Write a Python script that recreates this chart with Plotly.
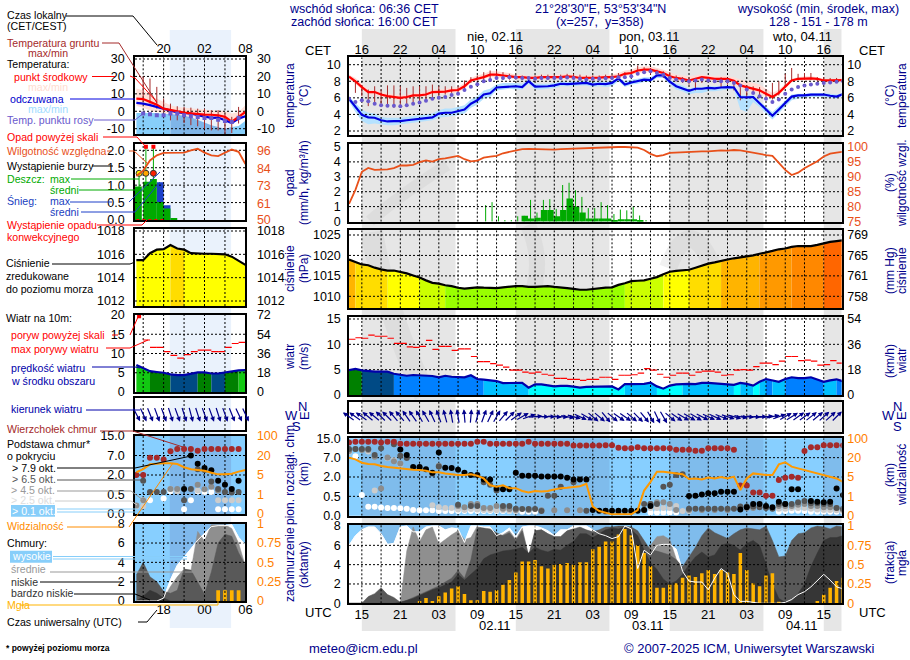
#! python
# -*- coding: utf-8 -*-

"""Meteogram ICM: temperatura, opad, ciśnienie, wiatr, chmury (1 godz.)."""

import numpy as np
import plotly.graph_objects as go

W, H = 910, 660
FONT = "Liberation Sans"
NAVY = "#00008b"
ORANGE = "#ff7f00"

# ---- glowny meteogram, godziny od 00 UTC 01.11 ----
hours = list(range(13, 91))
grid_hours = [15, 18, 21, 24, 27, 30, 33, 36, 39, 42, 45, 48, 51, 54, 57, 60, 63, 66, 69, 72, 75, 78, 81, 84, 87]
time_ticks = [15, 21, 27, 33, 39, 45, 51, 57, 63, 69, 75, 81, 87]
cet_labels = ["16", "22", "04", "10", "16", "22", "04", "10", "16", "22", "04", "10", "16"]
utc_labels = ["15", "21", "03", "09", "15", "21", "03", "09", "15", "21", "03", "09", "15"]
night_start = [15, 39, 63, 87]
night_end = [29.6, 53.6, 77.6, 89.8]

temp_mean = [8.55, 8.0, 7.3, 6.7, 6.7, 6.4, 6.2, 6.1, 6.0, 6.1,
             6.3, 6.3, 6.4, 6.7, 6.7, 6.75, 6.9, 6.95, 7.4, 8.1,
             8.3, 8.5, 8.8, 8.8, 8.7, 8.6, 8.5, 8.5, 8.4, 8.4,
             8.5, 8.5, 8.5, 8.5, 8.6, 8.55, 8.4, 8.4, 8.45, 8.45,
             8.5, 8.5, 8.6, 8.9, 9.0, 9.3, 9.4, 9.4, 9.2, 9.0,
             8.6, 8.4, 8.3, 8.1, 8.3, 8.5, 8.4, 8.3, 8.3, 8.3,
             8.05, 7.5, 7.3, 7.1, 6.9, 6.5, 6.1, 6.6, 7.4, 8.1,
             8.3, 8.35, 8.35, 8.3, 8.1, 8.1, 8.1, 8.15]
temp_max = [8.8, 8.4, 7.7, 7.0, 6.9, 6.7, 6.5, 6.4, 6.3, 6.4,
            6.6, 6.6, 6.7, 7.0, 7.0, 7.1, 7.2, 7.3, 7.8, 8.4,
            8.7, 8.9, 9.2, 9.2, 9.1, 9.0, 8.8, 8.8, 8.6, 8.7,
            8.8, 8.8, 8.8, 8.8, 8.9, 8.8, 8.7, 8.7, 8.7, 8.7,
            8.8, 8.8, 9.0, 9.3, 9.4, 9.7, 9.8, 9.8, 9.6, 9.4,
            9.1, 8.8, 8.7, 8.6, 8.7, 8.8, 8.7, 8.6, 8.6, 8.6,
            8.5, 8.2, 8.0, 7.8, 7.6, 7.1, 6.6, 7.0, 7.7, 8.3,
            8.5, 8.6, 8.6, 8.5, 8.3, 8.3, 8.3, 8.4]
temp_min = [8.3, 7.7, 7.0, 6.4, 6.4, 6.1, 5.9, 5.8, 5.7, 5.8,
            6.0, 6.1, 6.2, 6.5, 6.5, 6.5, 6.6, 6.7, 7.1, 7.8,
            8.1, 8.3, 8.5, 8.5, 8.4, 8.3, 8.3, 8.3, 8.2, 8.2,
            8.3, 8.3, 8.3, 8.3, 8.3, 8.3, 8.2, 8.2, 8.2, 8.2,
            8.3, 8.3, 8.4, 8.6, 8.8, 9.0, 9.1, 9.1, 8.9, 8.7,
            8.3, 8.1, 8.0, 7.8, 8.0, 8.2, 8.2, 8.1, 8.1, 8.1,
            7.8, 7.2, 7.0, 6.8, 6.6, 6.2, 5.9, 6.3, 7.1, 7.9,
            8.1, 8.1, 8.1, 8.1, 7.9, 7.9, 7.9, 7.9]
feel_mean = [5.9, 4.9, 3.95, 3.65, 3.6, 3.3, 3.15, 3.2, 3.2, 3.3,
             3.4, 3.5, 3.6, 3.65, 4.1, 4.2, 4.2, 4.4, 4.6, 5.3,
             5.7, 6.4, 6.55, 7.25, 7.3, 7.4, 7.4, 7.3, 8.0, 7.35,
             7.35, 7.4, 7.5, 7.7, 7.65, 7.7, 7.75, 7.8, 7.6, 7.7,
             7.65, 7.8, 8.35, 7.6, 7.85, 8.0, 8.2, 8.15, 8.7, 8.7,
             7.95, 7.4, 7.15, 6.85, 7.1, 7.1, 7.2, 7.15, 7.25, 7.3,
             7.25, 6.1, 6.05, 6.1, 5.35, 4.55, 3.85, 4.6, 5.4, 6.15,
             6.3, 6.3, 6.4, 6.4, 6.4, 6.25, 6.15, 6.45]
feel_max = [6.2, 5.4, 4.6, 4.2, 4.1, 3.7, 3.6, 3.6, 3.6, 3.7,
            3.8, 3.9, 4.0, 4.1, 4.5, 4.7, 4.7, 4.9, 5.1, 5.8,
            6.2, 6.9, 7.1, 7.6, 7.8, 7.8, 7.8, 7.7, 8.2, 7.7,
            7.7, 7.7, 7.8, 8.0, 7.9, 8.0, 8.0, 8.1, 7.9, 8.0,
            7.9, 8.1, 8.5, 8.0, 8.2, 8.3, 8.5, 8.5, 8.9, 8.9,
            8.2, 7.7, 7.5, 7.1, 7.3, 7.3, 7.4, 7.4, 7.4, 7.5,
            7.4, 6.3, 6.3, 6.3, 5.6, 4.9, 4.3, 5.0, 5.7, 6.4,
            6.5, 6.5, 6.6, 6.6, 6.6, 6.5, 6.4, 6.6]
feel_min = [5.6, 4.3, 3.2, 2.8, 2.9, 2.8, 2.7, 2.7, 2.8, 2.9,
            3.0, 3.1, 3.2, 3.3, 3.6, 3.7, 3.8, 3.9, 4.1, 4.8,
            5.2, 5.9, 6.1, 6.9, 7.0, 7.1, 7.0, 7.0, 7.7, 7.0,
            7.0, 7.1, 7.2, 7.4, 7.4, 7.4, 7.5, 7.5, 7.3, 7.4,
            7.3, 7.4, 8.0, 7.3, 7.6, 7.7, 7.9, 7.9, 8.4, 8.4,
            7.6, 7.0, 6.8, 6.4, 6.6, 6.6, 6.8, 6.8, 6.9, 7.0,
            7.0, 4.6, 4.3, 5.5, 4.9, 4.1, 3.4, 4.1, 4.9, 5.7,
            5.9, 6.0, 6.1, 6.1, 6.1, 6.0, 5.9, 6.2]
dew_point = [5.9, 5.5, 5.7, 5.6, 5.3, 5.1, 5.05, 5.05, 5.0, 5.1,
             5.3, 5.45, 5.65, 5.9, 6.0, 6.1, 6.35, 6.5, 6.95, 7.35,
             7.65, 8.0, 8.15, 8.4, 8.4, 8.5, 8.45, 8.4, 8.4, 8.3,
             8.4, 8.4, 8.4, 8.4, 8.45, 8.4, 8.3, 8.2, 8.3, 8.3,
             8.35, 8.4, 8.5, 8.5, 8.6, 8.9, 9.1, 9.2, 9.0, 8.8,
             8.4, 8.2, 8.1, 8.0, 8.1, 8.2, 8.1, 8.0, 8.0, 8.0,
             7.8, 7.5, 7.0, 6.6, 6.2, 5.9, 5.5, 5.8, 6.5, 7.0,
             7.3, 7.5, 7.6, 7.7, 7.8, 7.85, 7.95, 8.0]
ground_hours = list(range(14, 91))
ground_max = [8.1, 7.5, 7.0, 7.4, 7.0, 7.5, 7.5, 7.4, 7.2,
              7.4, 7.4, 7.4, 7.6, 7.4, 7.4, 7.4, 7.4, 8.1, 8.5,
              8.7, 9.1, 9.3, 9.3, 9.1, 8.9, 8.8, 8.7, 8.6, 8.7,
              8.8, 8.8, 8.8, 8.8, 8.9, 8.9, 8.8, 8.7, 8.7, 8.7,
              8.8, 8.8, 9.0, 9.1, 9.3, 9.9, 9.7, 9.6, 9.4, 9.2,
              9.1, 8.7, 8.5, 8.4, 8.4, 8.5, 8.4, 8.4, 8.5, 8.4,
              8.0, 7.3, 7.5, 7.4, 7.3, 7.0, 7.8, 8.0, 8.9, 9.6,
              8.9, 9.0, 9.0, 8.5, 8.5, 8.4, 8.4, 8.4]
ground_min = [6.6, 6.2, 5.0, 5.5, 5.1, 4.9, 4.8, 4.8, 5.1,
              5.3, 5.4, 5.6, 5.8, 6.0, 6.4, 6.6, 6.7, 6.9, 7.8,
              8.1, 8.0, 8.2, 8.2, 8.2, 8.2, 8.2, 8.2, 8.2, 8.1,
              8.2, 8.2, 8.2, 8.2, 8.3, 8.2, 8.1, 8.1, 8.1, 8.1,
              8.2, 8.2, 8.2, 8.4, 8.4, 8.8, 9.0, 8.8, 8.6, 8.4,
              8.2, 8.0, 7.8, 7.6, 6.9, 7.8, 7.9, 7.9, 7.3, 7.6,
              6.9, 5.7, 5.9, 6.5, 6.2, 6.0, 5.8, 6.3, 7.4, 8.0,
              8.2, 8.2, 8.2, 8.0, 8.0, 8.0, 8.0, 8.0]

rain_hours = list(range(34, 60))
rain_mean = [0, 0, 0, 0, 0, 0, 0.38, 0.2, 0.25, 0.78, 0.78, 0.35, 0.78, 1.55, 1.0, 0.6,
             0.2, 0.2, 0.2, 0.2, 0.05, 0.15, 0.15, 0.15, 0.05, 0]
rain_max = [1.1, 1.3, 0.35, 0.1, 0.1, 0.35, 0.38, 1.45, 0.6, 1.45, 1.5, 0.85, 2.45, 2.6, 2.1, 1.65,
            0.9, 0.9, 1.3, 1.1, 0.5, 0.8, 0.75, 1.0, 0.4, 0.1]
humidity = [80.9, 85.6, 91.7, 93, 92.3, 92.3, 92.5, 92.9, 93.8, 93.8,
            94, 94.9, 95.5, 95.1, 95.9, 96.2, 96.5, 97, 95.9, 95.2,
            95.4, 96.4, 96.8, 97, 97.9, 98.4, 99, 99.3, 99.4, 99.3,
            99.2, 99.2, 99.1, 99.3, 99.4, 99.4, 99.4, 99.5, 99.6, 99.8,
            99.9, 100, 100, 100, 100, 99.8, 99, 97.7, 96.9, 97.3,
            98, 98.1, 98.2, 98.5, 98.5, 98.5, 98.5, 98.8, 98.9, 98.8,
            99, 98.9, 98.5, 97.9, 97.7, 97.3, 97, 94.5, 92.3, 90.6,
            91.4, 92.9, 94, 95.2, 96.8, 97.8, 98.1, 98.4]
pressure = [1019, 1018.3, 1017.8, 1017.6, 1017, 1016.6, 1016.3, 1016.3, 1016, 1015.6,
            1015.1, 1014.6, 1013.9, 1013.3, 1013.1, 1012.7, 1012.5, 1012.1, 1011.9, 1012.1,
            1012.2, 1012.1, 1012, 1012, 1012.2, 1012.4, 1012.5, 1012.5, 1012.3, 1012.3,
            1012.4, 1012.5, 1012.3, 1012.2, 1012, 1011.8, 1011.6, 1011.6, 1011.8, 1012,
            1012.1, 1012.2, 1012.8, 1013.2, 1013.7, 1013.8, 1013.9, 1014.3, 1014.7, 1015.4,
            1016, 1016.2, 1016.4, 1016.5, 1017, 1017.5, 1018, 1018.3, 1018.7, 1019,
            1019.3, 1019.5, 1019.8, 1020, 1020.4, 1020.7, 1021.1, 1021.5, 1021.7, 1022.1,
            1022.3, 1022.3, 1022.3, 1022.6, 1023, 1023.3, 1023.5, 1023.7]
wind = [4.9, 5.15, 4.85, 4.7, 4.6, 4.6, 4.6, 4.2, 3.95, 3.8,
        3.95, 3.9, 3.75, 3.75, 3.5, 3.8, 3.6, 3.55, 3.5, 3.9,
        3.15, 3.05, 2.95, 2.75, 2.35, 2.35, 2.35, 2.4, 1.45, 2.1,
        2.1, 1.9, 1.7, 1.8, 1.8, 1.65, 1.45, 1.6, 1.6, 1.6,
        1.7, 1.7, 1.1, 2.15, 2.15, 2.15, 2.2, 2.45, 1.7, 1.25,
        1.85, 2.1, 2.2, 2.2, 2.15, 2.4, 2.4, 2.3, 2.25, 2.2,
        2, 2.4, 2.2, 1.85, 2.6, 3.15, 2.8, 2.6, 3.15, 3.5,
        3.35, 3.35, 3.5, 3.1, 2.6, 2.9, 3.1, 2.7]
gust = [11, 11.3, 11.2, 11.8, 11.6, 11.6, 11.2, 10.2, 10.2, 9.5,
        9.4, 9.6, 10.8, 9.0, 9.6, 9.6, 8.8, 9.1, 9.1, 7.6,
        6.6, 6.6, 6.2, 5.9, 5.5, 4.9, 4.9, 4.5, 4.3, 4.5,
        4.1, 3.9, 3.3, 3.3, 3.1, 3.1, 2.9, 3.1, 3.1, 3.5,
        3.5, 3.1, 3.9, 3.9, 4, 4.3, 5.2, 4.9, 4.1, 3.5,
        3.9, 4.3, 4.3, 3.9, 4.5, 4.7, 4.7, 4.5, 3.9, 4,
        4.9, 5, 4.9, 5.6, 6.3, 6.3, 6, 6.7, 7.6, 7.6,
        6.8, 6.9, 6.7, 5.9, 6, 6.8, 6.3]
wind_bearing = [305, 305, 305, 310, 310, 315, 315, 320, 320, 325,
                325, 330, 330, 335, 340, 345, 350, 350, 355, 5,
                15, 20, 25, 30, 40, 45, 55, 60, 70, 85,
                90, 90, 95, 95, 100, 105, 115, 120, 130, 130,
                140, 130, 125, 125, 130, 135, 140, 150, 155, 150,
                130, 125, 120, 120, 120, 118, 115, 115, 112, 108,
                105, 100, 95, 95, 90, 85, 78, 70, 60, 58,
                55, 55, 52, 50, 48, 48, 45]

# podstawa chmur [km] wg pokrycia, wierzcholek, widzialnosc
cloud_top = [13.3, 13.6, 13.6, 13.6, 13.6, 13.3, 13.6, 13.6, 12.7, 12.7,
             12.7, 12.7, 12.7, 12.7, 12.7, 12.7, 12.7, 12.7, 12.7, 12.7,
             13.6, 13.6, 12.7, 12.7, 12.7, 12.7, 12.7, 12.7, 13.6, 12.7,
             12.7, 12.7, 12.7, 12.7, 12.7, 12, 12, 12, 12, 12,
             12.1, 12.1, 11.1, 10.9, 10.9, 11.3, 10.9, 10.9, 10.9, 10.9,
             10.9, 10.3, 10.3, 10.3, 9.9, 9.9, 10.9, 10.9, 10.9, 10.9,
             10.3, 1.35, 1.35, 0.8, 0.8, 0.55, 0.55, 1.77, 1.95, 2.05,
             1.95, 9.75, 11.3, 11.3, 12.1, 12.1, 12.1, 12.1]
base79_hours = [21, 22, 23, 24, 25, 26, 27, 28, 29, 30, 31, 32, 33, 34, 35, 36, 37, 38, 39, 40, 41, 42, 43, 44, 45,
                46, 47, 48, 49, 50, 51, 52, 53, 54, 55, 56, 57, 58, 59, 60, 66, 67, 68, 69, 70, 71, 72, 73, 74, 75,
                76, 77, 78, 79, 80, 81, 82, 83, 85, 86, 87, 88, 89, 90]
base79_km = [10.4, 8.1, 4.6, 4.6, 4.0, 3.1, 9.1, 4.4, 4.3, 3.9, 3.1, 2.5, 2.5, 1.8, 1.8, 1.1, 1.05, 1.05, 3.1, 2.3,
             2.3, 2.3, 2.1, 2.1, 2.1, 2.1, 1.95, 1.8, 1.8, 1.8, 0.15, 0.13, 0.13, 0.13, 0.13, 0.13, 0.13, 0.13, 0.15,
             0.25, 0.53, 0.55, 0.65, 0.75, 0.75, 0.85, 0.85, 0.85, 0.16, 0.22, 0.3, 0.3, 0.25, 0.22, 0.36, 0.3, 1.05,
             1.05, 0.38, 0.36, 0.35, 0.36, 1.1, 0.6]
base65_hours = [13, 14, 15, 16, 17, 18, 20, 21, 22, 24, 26, 27, 30, 32, 33, 34, 35, 36, 37, 38, 39, 40, 41, 42, 43,
                44, 45, 46, 48, 50, 53, 59, 60, 61, 62, 63, 64, 65, 66, 67, 68, 69, 70, 71, 72, 73, 74, 75, 76, 77,
                78, 79, 80, 81, 82, 83, 84, 85, 86, 87, 88, 89, 90]
base65_km = [10.6, 10.6, 10.6, 10.6, 8.1, 10.9, 12.5, 7.8, 6.9, 4.4, 2.9, 4.7, 0.28, 0.25, 0.25, 1.6, 1.4, 0.95,
             0.25, 0.25, 0.18, 0.17, 0.17, 0.17, 0.12, 0.55, 0.55, 1.25, 1.6, 0.13, 0.12, 0.3, 0.3, 0.3, 1.25, 1.4,
             2.5, 2.7, 0.18, 0.18, 0.18, 0.18, 0.18, 0.18, 0.18, 0.18, 0.24, 0.24, 0.24, 0.22, 0.2, 0.18, 0.3, 0.3,
             0.3, 0.35, 0.38, 0.32, 0.32, 0.3, 0.3, 0.2, 0.18]
base45_hours = [13, 14, 15, 16, 17, 18, 19, 20, 21, 27, 30, 31, 32, 33, 34, 35, 36, 37, 38, 39, 41, 43, 45, 47, 49,
                53, 55, 57, 59, 60, 61, 62, 63, 64, 66, 68, 70, 72, 74, 75, 76, 80, 81, 82, 83, 84, 85, 86, 87, 88,
                89, 90]
base45_km = [9.8, 10.6, 10.2, 10.2, 7.4, 1.1, 7.1, 6.1, 5.5, 4.9, 0.25, 0.22, 0.3, 0.3, 0.2, 0.2, 0.25, 0.18, 0.17,
             0.15, 0.15, 0.14, 0.14, 0.14, 0.14, 0.1, 0.1, 0.1, 0.15, 0.3, 0.35, 0.35, 0.3, 0.15, 0.15, 0.15, 0.15,
             0.15, 0.2, 0.2, 0.2, 0.25, 0.25, 0.25, 0.28, 0.3, 0.25, 0.25, 0.22, 0.22, 0.2, 0.15]
base25_hours = [13, 16, 17, 19, 20, 21, 26, 27, 28, 29, 30, 31, 32, 33, 34, 35, 36, 37, 38, 39, 60, 61, 62, 63, 64,
                65, 66, 80, 81, 82, 83, 84, 85, 86, 87, 88, 89, 90]
base25_km = [9.3, 9.5, 0.95, 6.9, 6.3, 5.3, 0.27, 0.22, 0.2, 0.2, 0.16, 0.15, 0.17, 0.16, 0.15, 0.15, 0.14, 0.14,
             0.13, 0.12, 0.2, 0.2, 0.2, 0.2, 0.25, 0.12, 0.12, 0.18, 0.18, 0.2, 0.2, 0.2, 0.18, 0.16, 0.15, 0.15,
             0.14, 0.12]
base01_hours = [14, 15, 16, 17, 18, 19, 20, 21, 22, 23, 24, 25, 26, 27, 28, 29, 30, 31, 32, 33, 34, 35, 36, 37, 38,
                39, 40, 41, 42, 60, 61, 62, 63, 64, 80, 81, 82, 83, 84, 85, 86, 87, 88, 89, 90]
base01_km = [7.6, 0.6, 0.23, 0.23, 0.21, 0.2, 0.2, 0.19, 0.18, 0.15, 0.14, 0.14, 0.14, 0.12, 0.12, 0.12, 0.12, 0.12,
             0.12, 0.12, 0.12, 0.12, 0.12, 0.12, 0.12, 0.12, 0.1, 0.1, 0.1, 0.08, 0.08, 0.08, 0.08, 0.08, 0.1, 0.12,
             0.13, 0.13, 0.12, 0.1, 0.1, 0.1, 0.1, 0.1, 0.1]
visibility = [20, 18.7, 16.1, 15.1, 14.8, 13.5, 12.8, 12.2, 11.7, 11.2,
              10.7, 10.4, 9.9, 8.6, 8.6, 7.8, 7.1, 6.6, 6.6, 7.1,
              6, 4.7, 3.3, 3, 3.3, 2.7, 2.7, 2.1, 1.8, 2.1,
              2, 2.1, 2.4, 2.7, 2.8, 2.9, 3.1, 3.6, 0.47, 0.24,
              0.14, 0.07, 0.07, 0.07, 0.07, 0.29, 2.2, 4, 9.1, 9.1,
              8.4, 7.8, 7.1, 4.6, 4.7, 4.5, 4.9, 4.7, 5, 4.7,
              5.3, 2.3, 4.7, 7.8, 7.1, 6.6, 6.6, 14.8, 16.4, 13,
              11.7, 10.4, 8.6, 7.6, 6.6, 5.3, 4.7, 4]

# zachmurzenie [oktanty] i mgla [frakcja]
cloud_high = [6.0, 7.0, 7.6, 7.9, 7.9, 7.2, 6.1, 6.2, 7.9, 8,
              7.4, 7.4, 7.9, 8, 8, 7.6, 7.8, 7.7, 6.3, 8,
              8, 7.9, 7.9, 7.0, 7.3, 7.8, 6.9, 7.9, 8, 8,
              7.8, 7.5, 7, 7.6, 7.6, 8, 8, 8, 7.6, 7.2,
              7.0, 6.7, 6.9, 8, 7.7, 3.6, 5.5, 5, 6, 6.1,
              6.1, 5.6, 3.3, 2.3, 2.2, 2.2, 1.4, 2.6, 3.6, 3.1,
              0.9, 0.2, 0.2, 0.1, 0, 0, 0, 0, 0.1, 0.4,
              0.9, 1.2, 1.7, 2.3, 3, 2.4, 1.7, 1.5]
cloud_mid = [0, 0, 0, 0, 0, 0, 0, 0, 0, 5.4,
             7.9, 6.4, 7.6, 7.9, 6.1, 6.6, 7.1, 7.5, 6.6, 6.8,
             8, 7.8, 7.3, 6.6, 7.1, 7.5, 6.6, 7.8, 4.9, 7.5,
             7.6, 7.2, 6.9, 6.9, 7.5, 7.7, 7.2, 6.8, 6.5, 6.7,
             6.9, 7.5, 7.6, 7.6, 7.5, 6.5, 5.5, 6, 6.9, 7,
             6.6, 4.6, 3.3, 2, 1, 0.5, 0, 0, 0, 0,
             0, 0, 0, 0, 0, 0, 0, 0, 0, 0,
             0, 0, 0, 0, 0, 0, 0, 0]
cloud_low = [0, 0, 0, 0.7, 1, 1.6, 0.9, 0.6, 0.1, 0.3,
             0.6, 0.9, 1.2, 1.5, 1.8, 2.2, 2.6, 3.4, 2.6, 4.5,
             7.8, 7.8, 7.7, 7.3, 7, 7.3, 6.5, 7.5, 4.9, 7.5,
             7.6, 7.2, 6.9, 6.9, 7.5, 7.7, 7.9, 7.6, 7.4, 7.6,
             7.9, 7.9, 8, 8, 7.9, 7.5, 6.5, 5.5, 5.4, 5.2,
             5, 4.5, 3.8, 4.8, 5.8, 7, 7.8, 7.3, 7, 6.7,
             7.2, 7.6, 7.8, 7.7, 7.6, 8, 6.5, 4.8, 4.9, 6.5,
             7.2, 7.3, 7.8, 8, 7.9, 7.7, 8, 7.9]
cloud_vlow = [0, 0, 0, 0, 0, 0, 0, 0, 0.1, 0.3,
              0.5, 0.8, 1.1, 1.4, 1.6, 1.9, 2.2, 3, 2.4, 3,
              3.6, 4.6, 5, 5.2, 5.4, 5.5, 5.6, 5.8, 5.2, 5.8,
              5.5, 5.3, 5.6, 5.5, 6, 6.4, 7.2, 7.2, 6.8, 7.2,
              7.6, 7.8, 7.7, 7.9, 7.6, 7, 5.5, 4.2, 3.5, 2.5,
              2, 2.3, 3, 4, 4.8, 5.3, 4.8, 5, 6, 6.2,
              6, 5.5, 6.2, 6.5, 6, 4, 2, 0.5, 0.1, 0.2,
              1, 2, 3.8, 5.2, 6.5, 6.8, 6.8, 7]
fog_hours = list(range(24, 91))
fog = [0.03, 0.07, 0.03, 0.09, 0.14, 0.19, 0.22, 0.12, 0.04, 0.04,
       0.16, 0.15, 0.17, 0.24, 0.3, 0.4, 0.54, 0.54, 0.56, 0.48,
       0.45, 0.5, 0.51, 0.52, 0.5, 0.53, 0.53, 0.7, 0.73, 0.8,
       0.8, 0.89, 0.96, 0.88, 0.75, 0.65, 0.48, 0.2, 0.2, 0.24,
       0.26, 0.33, 0.36, 0.34, 0.39, 0.43, 0.38, 0.43, 0.4, 0.38,
       0.65, 0.43, 0.26, 0.22, 0.36, 0.39, 0.02, 0, 0, 0,
       0, 0, 0.03, 0.11, 0.2, 0.29, 0.33]

# ---- maly meteogram po lewej (legenda) ----
mini_hours = list(range(14, 31))
mini_grid = [15, 18, 21, 24, 27]
mini_ticks = [18, 24, 30]
mini_temp = [7.3, 7, 5.4, 3.8, 1.5, 0.6, -0.2, -0.8, -1.2, -1.7, -1.9, -2, -2.3, -3.2, -6, -3.2, -0.4]
mini_temp_max = [13, 12, 9.2, 7.3, 5.4, 3.5, 2.5, 2.1, 1.5, 1.5, 1, 0.6, 0.6, 0.2, -1.3, -0.4, 3.5]
mini_temp_min = [3, 2, 0.5, -0.5, -1, -1.5, -2, -2.5, -3, -3.5, -4, -4, -4.5, -5, -7, -5, -3]
mini_feel = [4.8, 4.4, 3.5, 2.5, 1.3, 0.2, -0.6, -1, -1.3, -2.3, -3.2, -3.8, -3.6, -5.2, -6.7, -4.2, -2.9]
mini_feel_max = [-1, -1, -1, -1, -1.5, -1.5, -2, -2.5, -3.5, -5, -6.5, -8, -9, -10, -9, -8.5, -5.5]
mini_dew_hours = list(range(15, 30))
mini_dew = [-1.3, -1.7, -2.3, -2.3, -1.3, -1.3, -2.3, -2.9, -3.3, -3.8, -3.8, -4.8, -5.6, -6.2, -3.7]
mini_ground_max = [20, 18.8, 14, 7.3, 4.4, 2.9, 2.5, 2.1, 1.5, 1.5, 0.6, 0.6, -1.3, -3.2, 2.5]
mini_ground_min = [5.4, 4.4, 1.5, -0.4, -5.2, -5.2, -6.7, -8, -8.6, -10, -11, -11, -12.9, -12.5, -7]
mini_rain_hours = [13.8, 15, 16, 17, 18, 19]
mini_rain = [0.96, 1.1, 1.18, 0.52, 0.33, 0.05]
mini_snow_hours = [17, 18]
mini_snow = [1.08, 0.42]
mini_storm_hours = [14.4, 15.4, 16.5]
mini_storm = [1.34, 1.34, 1.34]
mini_rain_tip = [1.42, 2.1, 2.1]
mini_over_hours = [15.4, 16.5]
mini_over = [2.1, 2.1]
mini_conv_hours = [14, 18]
mini_conv = [0, 0]
mini_humidity = [79, 82.6, 89.3, 92.7, 94.3, 94.5, 94.5, 94.5, 96, 97, 94.5, 92.6, 92.2, 94.5, 96.5, 95, 87]
mini_pressure = [1015.5, 1015.5, 1016.1, 1016.4, 1016.45, 1016.8, 1016.5, 1016.4, 1016.1, 1016.05, 1016.05, 1016.05,
                 1016.05, 1016, 1015.8, 1015.45, 1015.1]
mini_wind = [7, 6.1, 5.4, 5.2, 5, 4.6, 4.4, 4.4, 4.7, 5.1, 5.1, 4.8, 4.8, 5.1, 5.4, 5.6, 5.7]
mini_gust_hours = [15, 16, 17, 18, 19, 20, 21, 22, 23, 24, 25, 26, 27, 28, 29]
mini_gust = [13.5, 11.6, 11.6, 10.5, 9.5, 8.8, 9.7, 10.5, 10.9, 10.9, 10.5, 10.5, 11.6, 12.6, 12.9]
mini_gust_over_hours = [14.4]
mini_gust_over = [19.7]
mini_bearing = [152, 155, 158, 160, 160, 162, 160, 162, 165, 162, 160, 160, 162, 160, 158, 155, 155]
mini_top_hours = [14, 15, 16, 17, 18, 19, 20, 21, 22, 23, 24, 25, 26, 27, 28, 29]
mini_top_km = [2, 2, 6.4, 6.4, 6, 8.7, 9.7, 9.7, 9.7, 8.9, 9.7, 9.7, 9.7, 9.7, 9.7, 9.7]
mini_b79_hours = [21, 22, 23, 24, 25, 26, 27, 28, 29]
mini_b79_km = [0.93, 7, 4.9, 3.8, 3.2, 1.55, 1.25, 0.93, 1.55]
mini_b65_hours = [15, 16, 17, 18, 21, 22, 23, 24, 25, 26, 27, 28, 29]
mini_b65_km = [1.55, 0.7, 0.7, 0.7, 0.35, 0.93, 3.5, 3.3, 1.5, 0.93, 0.7, 0.65, 0.7]
mini_b45_hours = [14, 15, 19, 20, 23, 24, 25, 26]
mini_b45_km = [0.22, 0.35, 0.93, 0.93, 1.25, 0.9, 1.1, 0.8]
mini_b25_hours = [14, 15, 19, 20, 23, 26, 27, 28, 29]
mini_b25_km = [0.2, 0.2, 0.93, 0.75, 0.8, 0.35, 0.35, 0.35, 0.35]
mini_b01_hours = [15, 16, 18, 19, 21, 22, 23, 24, 25, 26, 27, 28, 29]
mini_b01_km = [0.35, 0.35, 0.4, 0.75, 0.12, 0.35, 0.75, 0.7, 0.7, 0.12, 0.12, 0.12, 0.12]
mini_visibility = [7.1, 9.5, 13.2, 13.7, 14, 14, 13.4, 11, 9.5, 8.9, 8.2, 6.8, 5.5, 5.5, 6, 7.6, 8.9]
mini_high = [0, 0, 0, 0, 0.3, 2.2, 3.7, 4.5, 5.4, 6.3, 7, 7.7, 7.8, 7.8, 7.9, 6.6, 5.8]
mini_mid = [0, 0, 0, 0, 0.2, 1.5, 2.5, 3.3, 3.1, 7.2, 6.2, 7.9, 7.9, 7.9, 7.5, 6, 3.6]
mini_low = [2.7, 4, 2.5, 2, 1, 0.8, 1.1, 3.3, 3.2, 2, 0.7, 3, 6, 6.9, 6.7, 5, 3.7]
mini_vlow = [0, 0.5, 1.1, 0.8, 0.3, 0, 0, 0, 0, 0, 0, 0, 0, 0, 0, 0, 0]
mini_fog_hours = [26, 27, 28, 29]
mini_fog = [0.14, 0.14, 0.14, 0.14]

# skale
KM_LEVELS = [0, 0.5, 2, 7, 15]
VIS_LEVELS = [0, 1, 5, 20, 100]
PRESSURE_EDGES = [1013, 1015, 1016.5, 1018.7, 1020.4, 1022.1, 1022.9]
PRESSURE_COLORS = ["#99ff00", "#ccff00", "#ffff00", "#ffdd00", "#ffb400", "#ff9900", "#ff8800", "#ff6600"]
WIND_EDGES = [2.12, 3.1, 4.3, 4.9, 5.5]
WIND_COLORS = ["#00ffff", "#00c0ff", "#0080ff", "#004a85", "#008000", "#12c812"]

fig = go.Figure()
layout_axes = {}
shapes = []
annotations = []
MAIN_X = [349, 841.7]
MINI_X = [135, 245.4]
MAIN_RANGE = [13, 89.8]
MINI_RANGE = [13.8, 30]


def fx(px):
    return px / W


def fy(py):
    return 1 - py / H


def y_range(v0, p0, v1, p1, top, bottom):
    # zakres osi z dwoch punktow odczytanych w pikselach
    k = (v1 - v0) / (p1 - p0)
    return [v0 + (bottom - p0) * k, v0 + (top - p0) * k]


def set_panel(n, x_px, y_px, x_rng, y_rng, ticks=(), text=None, r_rng=None, r_ticks=None, r_text=None,
              r_color="black", stand=(4, 2), x_ticks=None, x_text=None, x_side="bottom", x_off=0):
    layout_axes[f"xaxis{n}"] = dict(
        domain=[fx(x_px[0]), fx(x_px[1])], range=x_rng, anchor=f"y{n}", side=x_side,
        showgrid=False, zeroline=False, showline=True, mirror=True, linecolor="black", linewidth=1.5,
        tickmode="array", tickvals=x_ticks or [], ticktext=x_text or [], ticks="", ticklabelstandoff=x_off,
        tickfont=dict(family=FONT, size=13, color="black"), fixedrange=True,
    )
    layout_axes[f"yaxis{n}"] = dict(
        domain=[fy(y_px[1]), fy(y_px[0])], range=y_rng, anchor=f"x{n}",
        showgrid=False, zeroline=False, showline=True, mirror=True, linecolor="black", linewidth=1.5,
        tickmode="array", tickvals=list(ticks), ticktext=text or [str(t) for t in ticks],
        ticks="outside", ticklen=stand[0], tickcolor="rgba(0,0,0,0)",
        tickfont=dict(family=FONT, size=12.5, color="black"), fixedrange=True,
    )
    layout_axes[f"yaxis{n + 20}"] = dict(
        overlaying=f"y{n}", side="right", anchor=f"x{n}", range=r_rng or y_rng,
        showgrid=False, zeroline=False, showline=False,
        tickmode="array", tickvals=list(r_ticks if r_ticks is not None else ticks),
        ticktext=r_text or [str(t) for t in (r_ticks if r_ticks is not None else ticks)],
        ticks="outside", ticklen=stand[1], tickcolor="rgba(0,0,0,0)",
        tickfont=dict(family=FONT, size=12.5, color=r_color), fixedrange=True,
    )
    first = list(r_ticks if r_ticks is not None else ticks) or [0]
    add(n, go.Scatter(x=[x_rng[0]], y=[first[0]], mode="markers", marker_opacity=0), right=True)
    add(n, go.Scatter(x=[x_rng[0]], y=[y_rng[0]], mode="markers", marker_opacity=0))


def add(n, trace, right=False):
    trace.update(xaxis=f"x{n}", yaxis=f"y{n + 20}" if right else f"y{n}", hoverinfo="skip", showlegend=False)
    fig.add_trace(trace)


def line(n, x, y, color, width=2, right=False, dash=None):
    add(n, go.Scatter(x=x, y=y, mode="lines", line=dict(color=color, width=width, dash=dash)), right)


def band(n, x, lo, hi, color):
    add(n, go.Scatter(x=list(x) + list(x)[::-1], y=list(hi) + list(lo)[::-1], mode="lines", fill="toself",
                      fillcolor=color, line=dict(width=0)))


def area(n, x, y, color, edge=None):
    add(n, go.Scatter(x=x, y=y, mode="lines", fill="tozeroy", fillcolor=color,
                      line=dict(color=edge or color, width=0.5)))


def sticks(n, x, lo, hi, color, width=1, right=False):
    xs, ys = [], []
    for h, a, b in zip(x, lo, hi):
        xs += [h, h, None]
        ys += [a, b, None]
    line(n, xs, ys, color, width, right)


def steps(n, x, y, color, width=1.2):
    xs, ys = [], []
    for h, v in zip(x, y):
        xs += [h, h + 1, None]
        ys += [v, v, None]
    line(n, xs, ys, color, width)


def grid(n, x_hours, y_ticks, x_rng, y_rng, right=False):
    xs, ys = [], []
    for h in x_hours:
        xs += [h, h, None]
        ys += [y_rng[0], y_rng[1], None]
    for v in y_ticks:
        xs += [x_rng[0], x_rng[1], None]
        ys += [v, v, None]
    line(n, xs, ys, "black", 1, right, dash="2px,2px")


def color_area(n, x, y, base, colors):
    # wypelnienie kolumnami: kolejne odcinki o tym samym kolorze jako jeden wielokat
    start = 0
    for i in range(1, len(x)):
        if i == len(x) - 1 or colors[i] != colors[start]:
            xs = x[start:i + 1]
            ys = y[start:i + 1]
            add(n, go.Scatter(x=xs + xs[::-1], y=ys + [base] * len(xs), mode="lines", fill="toself",
                              fillcolor=colors[start], line=dict(width=0)))
            start = i


def dots(n, x, km, color, size=6):
    add(n, go.Scatter(x=x, y=np.interp(km, KM_LEVELS, range(5)), mode="markers",
                      marker=dict(color=color, size=size, line=dict(width=0))))


def arrows(n, x, bearing, length):
    for h, b in zip(x, bearing):
        sin_b, cos_b = np.sin(np.radians(b)), np.cos(np.radians(b))
        annotations.append(dict(
            x=h, y=0.5, xref=f"x{n}", yref=f"y{n}", text="", showarrow=True, arrowhead=2, arrowsize=0.8,
            arrowwidth=1.2, arrowcolor=NAVY, ax=-length * sin_b, ay=length * cos_b, axref="pixel", ayref="pixel",
            xshift=length / 2 * sin_b, yshift=length / 2 * cos_b,
        ))


def label(text, x, y, color="black", anchor="left", size=12.5, angle=0):
    annotations.append(dict(
        text=text, x=fx(x), y=fy(y), xref="paper", yref="paper", xanchor=anchor, yanchor="middle",
        showarrow=False, textangle=angle, borderpad=0,
        font=dict(family=FONT, size=size, color=color),
    ))


def note(text, x, y, color="black"):
    # opisy w legendzie po lewej sa drobniejsze
    label(text, x, y, color, "left", 10.6)


def leader(points, color):
    path = "M " + " L ".join(f"{fx(a)} {fy(b)}" for a, b in points)
    shapes.append(dict(type="path", path=path, xref="paper", yref="paper", layer="above",
                       line=dict(color=color, width=1)))


def rect(x0, x1, y0, y1, color, xref="paper", layer="below"):
    shapes.append(dict(type="rect", x0=x0, x1=x1, y0=y0, y1=y1, xref=xref, yref="paper", layer=layer,
                       fillcolor=color, line=dict(width=0)))


def smear(points, width):
    # blady znak wodny ICM pod wykresami
    path = f"M {fx(points[0][0])} {fy(points[0][1])} Q " + " ".join(f"{fx(a)} {fy(b)}" for a, b in points[1:])
    shapes.append(dict(type="path", path=path, xref="paper", yref="paper", layer="below",
                       line=dict(color="rgba(190,190,190,0.22)", width=width)))


def bucket(values, edges, palette):
    return [palette[int(np.searchsorted(edges, v, side="right"))] for v in values]


# ---- tlo: noc i tlo paneli chmur ----
P_MAIN = dict(temp=[57.3, 135], rain=[144, 221.7], press=[230.3, 308.3], wind=[317.3, 395], dir=[401.7, 431.7],
              base=[438.3, 515.7], cloud=[525, 603.3])
P_MINI = dict(temp=[57.3, 134.3], rain=[144, 220], press=[229.3, 306], wind=[315, 392], dir=[398.3, 430],
              base=[436, 514], cloud=[523.7, 601])

for s, e in zip(night_start, night_end):
    rect(s, e, fy(29), fy(631), "#e6e6e6", xref="x2")
rect(18.9, 27.9, fy(30), fy(628), "#eaf2fc", xref="x9")
smear([(370, 221), (400, 195), (447, 165)], 12)
smear([(372, 232), (385, 310), (425, 395)], 22)
smear([(528, 225), (545, 262), (530, 300)], 16)
smear([(668, 268), (690, 210), (713, 268)], 18)
for key in ("base", "cloud"):
    rect(fx(MAIN_X[0]), fx(MAIN_X[1]), fy(P_MAIN[key][0]), fy(P_MAIN[key][1]), "#87cfff")
    rect(fx(MINI_X[0]), fx(MINI_X[1]), fy(P_MINI[key][0]), fy(P_MINI[key][1]), "#87cfff")
    for s, e in zip(night_start, night_end):
        rect(s, e, fy(P_MAIN[key][0]), fy(P_MAIN[key][1]), "#7fbcec", xref="x2")
    rect(18.9, 27.9, fy(P_MINI[key][0]), fy(P_MINI[key][1]), "#7fb8ec", xref="x9")

# ---- glowne panele ----
rng = y_range(2, 131, 10, 64.7, *P_MAIN["temp"])
set_panel(2, MAIN_X, P_MAIN["temp"], MAIN_RANGE, rng, [2, 4, 6, 8, 10],
          x_ticks=time_ticks, x_text=cet_labels, x_side="top", x_off=-4)
band(2, hours, temp_min, temp_max, "#ffdcd6")
band(2, hours, feel_min, feel_max, "#b5e2ff")
grid(2, grid_hours, [2, 4, 6, 8, 10], MAIN_RANGE, rng)
sticks(2, ground_hours, ground_min, ground_max, "#a52a2a")
line(2, hours, feel_mean, "#0000e0", 2.2)
line(2, hours, temp_mean, "#ff0000", 2.2)
add(2, go.Scatter(x=hours, y=dew_point, mode="markers", marker=dict(color="#6a5acd", size=4)))

rng = y_range(0, 221.5, 5, 147, *P_MAIN["rain"])
rh = y_range(75, 221.5, 100, 147, *P_MAIN["rain"])
set_panel(3, MAIN_X, P_MAIN["rain"], MAIN_RANGE, rng, [0, 1, 2, 3, 4, 5], r_rng=rh,
          r_ticks=[75, 80, 85, 90, 95, 100], r_color="#e8501a")
add(3, go.Bar(x=rain_hours, y=rain_mean, width=1, offset=-0.1, marker=dict(color="#00aa00", line_width=0)))
sticks(3, [h + 0.3 for h in rain_hours], [0] * len(rain_max), rain_max, "#00aa00")
grid(3, grid_hours, [1, 2, 3, 4], MAIN_RANGE, rng)
line(3, hours, humidity, "#e8501a", 1.8, right=True)

rng = y_range(1010, 296.3, 1025, 235, *P_MAIN["press"])
set_panel(4, MAIN_X, P_MAIN["press"], MAIN_RANGE, rng, [1010, 1015, 1020, 1025],
          r_text=["758", "761", "765", "769"])
color_area(4, hours, pressure, rng[0], bucket(pressure, PRESSURE_EDGES, PRESSURE_COLORS))
grid(4, grid_hours, [1010, 1015, 1020, 1025], MAIN_RANGE, rng)
line(4, hours, pressure, "black", 2.2)

rng = y_range(0, 395, 15, 319, *P_MAIN["wind"])
set_panel(5, MAIN_X, P_MAIN["wind"], MAIN_RANGE, rng, [0, 5, 10, 15], r_text=["0", "18", "36", "54"])
color_area(5, hours, wind, 0, bucket(wind, WIND_EDGES, WIND_COLORS))
grid(5, grid_hours, [5, 10, 15], MAIN_RANGE, rng)
steps(5, hours[:-1], gust, "#ff0000")
line(5, hours, wind, "#0000aa", 2.2)

set_panel(6, MAIN_X, P_MAIN["dir"], MAIN_RANGE, [0, 1])
grid(6, grid_hours, [], MAIN_RANGE, [0, 1])
arrows(6, hours[:-1], wind_bearing, 15)

set_panel(7, MAIN_X, P_MAIN["base"], MAIN_RANGE, [0, 4], [0, 1, 2, 3, 4],
          text=["0.0", "0.5", "2.0", "7.0", "15.0"], r_text=["0", "1", "5", "20", "100"], r_color=ORANGE)
grid(7, grid_hours, [1, 2, 3], MAIN_RANGE, [0, 4])
dots(7, base01_hours, base01_km, "white")
dots(7, base25_hours, base25_km, "#cccccc")
dots(7, base45_hours, base45_km, "#8c8c8c")
dots(7, base65_hours, base65_km, "#555555")
dots(7, base79_hours, base79_km, "black")
dots(7, hours, cloud_top, "#a52a2a")
line(7, hours, np.interp(visibility, VIS_LEVELS, range(5)), "#ff9900", 2, right=True)

rng = y_range(0, 603.3, 8, 526, *P_MAIN["cloud"])
fog_rng = [rng[0] / 8, rng[1] / 8]
set_panel(8, MAIN_X, P_MAIN["cloud"], MAIN_RANGE, rng, [0, 2, 4, 6, 8], r_rng=fog_rng,
          r_ticks=[0, 0.25, 0.5, 0.75, 1], r_color=ORANGE, x_ticks=time_ticks, x_text=utc_labels, x_off=-2)
area(8, hours, cloud_high, "white")
area(8, hours, cloud_mid, "#8f8f8f")
area(8, hours, cloud_low, "#595959")
area(8, hours, cloud_vlow, "#363636")
add(8, go.Bar(x=fog_hours, y=fog, width=0.55, marker=dict(color="#ffb300", line_width=0)), right=True)
grid(8, grid_hours, [0.25, 0.5, 0.75], MAIN_RANGE, fog_rng, right=True)
line(8, hours, [v / 8 for v in cloud_high], "white", 1, right=True)

# ---- male panele ----
T = [-10, 0, 10, 20, 30]
rng = y_range(-10, 128.7, 30, 59, *P_MINI["temp"])
set_panel(9, MINI_X, P_MINI["temp"], MINI_RANGE, rng, T, stand=(6, 8),
          x_ticks=mini_ticks, x_text=["20", "02", "08"], x_side="top", x_off=-3)
band(9, mini_hours, mini_temp_min, mini_temp_max, "#ffe0d8")
color_area(9, mini_hours, mini_feel_max, rng[0],
           ["#7fb5e8" if 19 <= h < 28 else "#87cefa" for h in mini_hours])
grid(9, mini_grid, T[:4] + [30], MINI_RANGE, rng)
sticks(9, mini_dew_hours, mini_ground_min, mini_ground_max, "#a52a2a")
line(9, mini_hours, mini_feel, "#0000e0", 2.2)
line(9, mini_hours, mini_temp, "#ff0000", 2.2)
add(9, go.Scatter(x=mini_dew_hours, y=mini_dew, mode="markers",
                  marker=dict(color="#6a5acd", size=4, symbol="square")))

rng = y_range(0, 220, 2, 150.3, *P_MINI["rain"])
rh = y_range(50, 220, 96, 150.3, *P_MINI["rain"])
set_panel(10, MINI_X, P_MINI["rain"], MINI_RANGE, rng, [0, 0.5, 1, 1.5, 2], text=["0.0", "0.5", "1.0", "1.5", "2.0"],
          r_rng=rh, r_ticks=[50, 61, 73, 84, 96], r_color="#e8501a", stand=(6, 8))
add(10, go.Bar(x=mini_snow_hours, y=mini_snow, width=1, offset=0, marker=dict(color="#1c3fc8", line_width=0)))
add(10, go.Bar(x=mini_rain_hours, y=mini_rain, width=1, offset=0, marker=dict(color="#00aa00", line_width=0)))
grid(10, mini_grid, [0.5, 1, 1.5, 2], MINI_RANGE, rng)
sticks(10, mini_storm_hours, [0, 0, 0], mini_rain_tip, "#00aa00")
line(10, mini_conv_hours, mini_conv, "#ff0000", 2, dash="3px,3px")
add(10, go.Scatter(x=mini_over_hours, y=mini_over, mode="markers",
                   marker=dict(color="#ff0000", size=4, symbol="square")))
add(10, go.Scatter(x=mini_storm_hours, y=mini_storm, mode="markers",
                   marker=dict(color=["#ffee00", "#ffa500", "#ff2000"], size=6, line=dict(color="#333333", width=1))))
line(10, mini_hours, mini_humidity, "#e8501a", 1.8, right=True)

rng = y_range(1012, 301, 1018, 231, *P_MINI["press"])
set_panel(11, MINI_X, P_MINI["press"], MINI_RANGE, rng, [1012, 1014, 1016, 1018], stand=(6, 8))
color_area(11, mini_hours, mini_pressure, rng[0], bucket(mini_pressure, PRESSURE_EDGES, PRESSURE_COLORS))
grid(11, mini_grid, [1012, 1014, 1016, 1018], MINI_RANGE, rng)
line(11, mini_hours, mini_pressure, "black", 2.2)

rng = y_range(0, 392, 20, 315, *P_MINI["wind"])
set_panel(12, MINI_X, P_MINI["wind"], MINI_RANGE, rng, [0, 5, 10, 15, 20],
          r_text=["0", "18", "36", "54", "72"], stand=(6, 8))
color_area(12, mini_hours, mini_wind, 0, bucket(mini_wind, WIND_EDGES, WIND_COLORS))
grid(12, mini_grid, [5, 10, 15], MINI_RANGE, rng)
steps(12, mini_gust_hours, mini_gust, "#ff0000")
add(12, go.Scatter(x=mini_gust_over_hours, y=mini_gust_over, mode="markers",
                   marker=dict(color="#ff0000", size=4, symbol="square")))
line(12, mini_hours, mini_wind, "#0000aa", 2.2)

set_panel(13, MINI_X, P_MINI["dir"], MINI_RANGE, [0, 1], stand=(6, 8))
grid(13, mini_grid, [], MINI_RANGE, [0, 1])
arrows(13, mini_hours, mini_bearing, 16)

set_panel(14, MINI_X, P_MINI["base"], MINI_RANGE, [0, 4], [0, 1, 2, 3, 4],
          text=["0.0", "0.5", "2.0", "7.0", "15.0"], r_text=["0", "1", "5", "20", "100"],
          r_color=ORANGE, stand=(6, 8))
grid(14, mini_grid, [1, 2, 3], MINI_RANGE, [0, 4])
dots(14, mini_b01_hours, mini_b01_km, "white")
dots(14, mini_b25_hours, mini_b25_km, "#cccccc")
dots(14, mini_b45_hours, mini_b45_km, "#8c8c8c")
dots(14, mini_b65_hours, mini_b65_km, "#555555")
dots(14, mini_b79_hours, mini_b79_km, "black")
dots(14, mini_top_hours, mini_top_km, "#a52a2a")
line(14, mini_hours, np.interp(mini_visibility, VIS_LEVELS, range(5)), "#ff9900", 2, right=True)

rng = y_range(0, 601, 8, 523.7, *P_MINI["cloud"])
fog_rng = [rng[0] / 8, rng[1] / 8]
set_panel(15, MINI_X, P_MINI["cloud"], MINI_RANGE, rng, [0, 2, 4, 6, 8], r_rng=fog_rng,
          r_ticks=[0, 0.25, 0.5, 0.75, 1], r_color=ORANGE, stand=(6, 8),
          x_ticks=mini_ticks, x_text=["18", "00", "06"], x_off=-4)
area(15, mini_hours, mini_high, "white")
area(15, mini_hours, mini_mid, "#8f8f8f")
area(15, mini_hours, mini_low, "#595959")
area(15, mini_hours, mini_vlow, "#363636")
add(15, go.Bar(x=mini_fog_hours, y=mini_fog, width=0.55, marker=dict(color="#ffb300", line_width=0)), right=True)
grid(15, mini_grid, [0.25, 0.5, 0.75], MINI_RANGE, fog_rng, right=True)
line(15, mini_hours, [v / 8 for v in mini_high], "white", 1, right=True)

# ---- napisy naglowka i stopki ----
label("wschód słońca: 06:36 CET", 364, 8.5, NAVY, "center")
label("zachód słońca: 16:00 CET", 364, 21.5, NAVY, "center")
label("21°28'30\"E, 53°53'34\"N", 600, 8.5, NAVY, "center")
label("(x=257,  y=358)", 600, 21.5, NAVY, "center")
label("wysokość (min, środek, max)", 818, 9, NAVY, "center")
label("128 - 151 - 178 m", 818, 22, NAVY, "center")
label("meteo@icm.edu.pl", 363, 648.5, NAVY, "center", 13)
label("© 2007-2025 ICM, Uniwersytet Warszawski", 749, 648.5, NAVY, "center", 13)
label("CET", 318, 50, "black", "center", 13)
label("CET", 872, 50, "black", "center", 13)
label("UTC", 318, 612, "black", "center", 13)
label("UTC", 872, 612, "black", "center", 13)
label("nie, 02.11", 495, 36, "black", "center", 13)
label("pon, 03.11", 649, 36, "black", "center", 13)
label("wto, 04.11", 802, 36, "black", "center", 13)
label("02.11", 495, 625, "black", "center", 13)
label("03.11", 648, 625, "black", "center", 13)
label("04.11", 802, 625, "black", "center", 13)

# tytuly osi
for a, b, y in [("temperatura", "(°C)", 96), ("opad", "(mm/h, kg/m³/h)", 183), ("ciśnienie", "(hPa)", 269),
                ("wiatr", "(m/s)", 357), ("pion. rozciągł. chm.", "(km)", 474), ("zachmurzenie", "(oktanty)", 565)]:
    label(a, 290, y, NAVY, "center", 12, -90)
    label(b, 304, y, NAVY, "center", 12, -90)
for a, b, y in [("(°C)", "temperatura", 96), ("(%)", "wilgotność wzgl.", 183), ("(mm Hg)", "ciśnienie", 271),
                ("(km/h)", "wiatr", 361), ("(km)", "widzialność", 475), ("(frakcja)", "mgła", 563)]:
    label(a, 890, y, NAVY, "center", 12, -90)
    label(b, 902, y, NAVY, "center", 12, -90)
for wx, nx, ex, sx in [(291, 302, 305, 296), (888, 897, 902, 897)]:
    label("W", wx, 416, NAVY, "center", 13)
    label("N", nx, 406, NAVY, "center", 13)
    label("E", ex, 416, NAVY, "center", 13, -90)
    label("S", sx, 426, NAVY, "center", 13)

# ---- legenda po lewej ----
RED_BROWN = "#a52a2a"
rect(fx(11), fx(55), fy(505), fy(516.7), "#87cefa", layer="above")
rect(fx(10), fx(52), fy(550.7), fy(562.7), "#87cefa", layer="above")
note("Czas lokalny", 5.5, 14.7)
note("(CET/CEST)", 6, 26)
note("Temperatura gruntu", 6, 42.7, RED_BROWN)
note("max/min", 27, 52.7, RED_BROWN)
note("Temperatura:", 6, 64)
note("punkt środkowy", 12.7, 76.7, "#ff0000")
note("max/min", 27, 86.7, "#ffdcd0")
note("odczuwana", 9.3, 98.7, "#0000cc")
note("max/min", 27, 108.7, "#a0dcff")
note("Temp. punktu rosy", 6, 120, "#6a5acd")
note("Opad powyżej skali", 6, 137, "#ff0000")
note("Wilgotność względna", 6, 151, "#e8501a")
note("Wystąpienie burzy", 6, 165.7)
note("Deszcz:", 6, 179, "#00aa00")
note("max", 49, 179, "#00aa00")
note("średni", 49, 190, "#00aa00")
note("Śnieg:", 6, 201, "#2040c0")
note("max", 49, 201, "#2040c0")
note("średni", 49, 212, "#2040c0")
note("Wystąpienie opadu", 6, 224.7, "#ff0000")
note("konwekcyjnego", 6, 237, "#ff0000")
note("Ciśnienie", 5, 263)
note("zredukowane", 5, 276)
note("do poziomu morza", 5, 289)
note("Wiatr na 10m:", 5, 318)
note("poryw powyżej skali", 9.5, 334.7, "#ff0000")
note("max porywy wiatru", 9.5, 348.7, "#ff0000")
note("prędkość wiatru", 9.5, 368, "#0000aa")
note("w środku obszaru", 9.5, 381, "#0000aa")
note("kierunek wiatru", 9.5, 409, "#0000aa")
note("Wierzchołek chmur", 6, 429, RED_BROWN)
note("Podstawa chmur*", 6, 444)
note("o pokryciu", 6, 455.7)
note("> 7.9 okt.", 11, 468.3)
note("> 6.5 okt.", 11, 479.3, "#555555")
note("> 4.5 okt.", 10, 490, "#999999")
note("> 2.5 okt.", 10, 500, "#dddddd")
note("> 0.1 okt.", 11, 511, "white")
note("Widzialność", 6, 526, "#ff8c00")
note("Chmury:", 6, 543)
note("wysokie", 11, 556, "white")
note("średnie", 10, 568.7, "#999999")
note("niskie", 10, 581.7, "#333333")
note("bardzo niskie", 10, 593, "#333333")
note("Mgła", 6, 605, "#ffb300")
note("Czas uniwersalny (UTC)", 6, 622)
label("<b>* powyżej poziomu morza</b>", 5, 648, "black", "left", 8.5)

leader([(66, 16), (133, 16), (157, 45)], "black")
leader([(102, 43), (119, 43), (157, 103)], RED_BROWN)
leader([(92, 76.5), (115, 76.5)], "#ff0000")
leader([(130, 76), (135, 78), (157, 102)], "#ff0000")
leader([(70, 99), (135, 99)], "#0000e0")
leader([(94, 120), (135, 120), (145, 112)], "#6a5acd")
leader([(103, 137), (137, 137), (145, 146)], "#ff0000")
leader([(107, 151), (112, 151)], "#e8501a")
leader([(129, 151), (134, 151), (147, 163)], "#e8501a")
leader([(92, 166), (113, 166)], "black")
leader([(129, 166), (135, 170)], "black")
leader([(71, 179), (139, 179)], "#00aa00")
leader([(79, 190), (148, 190)], "#00aa00")
leader([(70, 202), (112, 202)], "#1c3fc8")
leader([(129, 202), (160, 172)], "#1c3fc8")
leader([(81, 212), (135, 212), (160, 182)], "#1c3fc8")
leader([(97, 225), (142, 225), (147, 220)], "#ff0000")
leader([(52, 264), (130, 264), (135, 262)], "black")
leader([(112, 335), (118, 335)], "#ff0000")
leader([(130, 335), (138, 317)], "#ff0000")
leader([(106, 348), (130, 348), (148, 340)], "#ff0000")
leader([(92, 367), (135, 367), (140, 368)], "#0000aa")
leader([(86, 410), (140, 410)], "#0000aa")
leader([(100, 431), (133, 431), (183, 447)], RED_BROWN)
leader([(57, 468), (135, 468), (191, 456)], "black")
leader([(57, 480), (143, 480)], "#555555")
leader([(57, 491), (131, 491), (143, 500)], "#999999")
leader([(55, 501), (131, 501), (137, 505)], "#cccccc")
leader([(57, 509), (137, 509)], "#87cefa")
leader([(57, 512), (137, 512)], "#87cefa")
leader([(67, 527), (122, 527)], "#ff8c00")
leader([(129, 527), (173, 463)], "#ff8c00")
leader([(53, 556.5), (187, 556.5)], "#87cefa")
leader([(53, 559), (187, 559)], "#87cefa")
leader([(50, 572), (193, 572)], "#999999")
leader([(40, 582), (122, 582)], "black")
leader([(130, 582), (135, 582)], "black")
leader([(74, 594), (135, 594), (150, 600)], "black")
leader([(20, 605), (218, 605), (218, 600)], "#ffb300")
leader([(138, 622), (147, 622), (157, 610)], "black")

fig.update_layout(
    width=W,
    height=H,
    margin=dict(l=0, r=0, t=0, b=0, autoexpand=False),
    paper_bgcolor="white",
    plot_bgcolor="rgba(0,0,0,0)",
    barmode="overlay",
    showlegend=False,
    shapes=shapes,
    annotations=annotations,
    **layout_axes,
)

fig.write_html("out.html", config={"displayModeBar": False},
               post_script="document.body.style.margin='0';")
